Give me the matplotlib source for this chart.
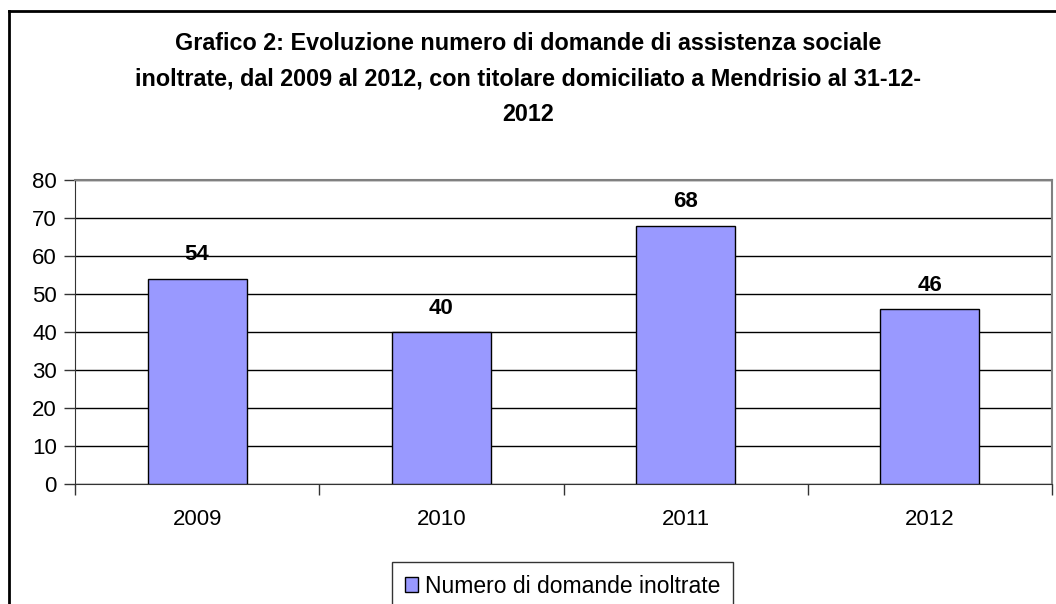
import matplotlib.pyplot as plt
from matplotlib.lines import Line2D
from matplotlib.patches import Patch

plt.rcParams['font.family'] = ['Liberation Sans', 'DejaVu Sans']

years = ['2009', '2010', '2011', '2012']
domande = [54, 40, 68, 46]
y_ticks = [0, 10, 20, 30, 40, 50, 60, 70, 80]
titolo = ('Grafico 2: Evoluzione numero di domande di assistenza sociale\n'
          'inoltrate, dal 2009 al 2012, con titolare domiciliato a Mendrisio al 31-12-\n'
          '2012')
serie = 'Numero di domande inoltrate'

fig = plt.figure(figsize=(10.56, 6.04), dpi=100)
ax = fig.add_axes([75 / 1056, 1 - 484 / 604, 977 / 1056, 304 / 604])

pos = range(len(years))
ax.bar(pos, domande, width=0.405, color='#9999FF', edgecolor='black',
       linewidth=1.0, zorder=3)
for x, v in zip(pos, domande):
    ax.text(x, v + 6.3, str(v), ha='center', va='center', fontsize=16,
            fontweight='bold')

ax.set_xlim(-0.5, len(years) - 0.5)
ax.set_ylim(0, 80)
ax.set_yticks(y_ticks)
ax.set_xticks(pos)
ax.set_xticklabels(years)
ax.set_xticks([p - 0.5 for p in range(len(years) + 1)], minor=True)
ax.tick_params(axis='x', which='major', length=0, labelsize=16, pad=18)
ax.tick_params(axis='x', which='minor', length=8, width=1, color='#333333')
ax.tick_params(axis='y', length=8, width=1, labelsize=16, pad=5, color='#333333')
ax.yaxis.grid(True, color='black', linewidth=1, zorder=0)
ax.set_axisbelow(True)
for s in ['top', 'right']:
    ax.spines[s].set_color('#808080')
    ax.spines[s].set_linewidth(1.5)
ax.spines['left'].set_color('#333333')
ax.spines['bottom'].set_color('#333333')

fig.text(0.5, 1 - 79 / 604, titolo, ha='center', va='center', fontsize=16.8,
         fontweight='bold', linespacing=1.72)

# bordo esterno (visibile solo in alto e a sinistra)
fig.add_artist(Line2D([9 / 1056, 9 / 1056], [0, 1 - 11 / 604], color='black',
                      linewidth=2, transform=fig.transFigure))
fig.add_artist(Line2D([9 / 1056, 1], [1 - 11 / 604, 1 - 11 / 604], color='black',
                      linewidth=2, transform=fig.transFigure))

handle = Patch(facecolor='#9999FF', edgecolor='black', linewidth=1)
leg = fig.legend([handle], [serie], loc='upper center',
                 bbox_to_anchor=(562.5 / 1056, 1 - 562 / 604), fontsize=16.5,
                 frameon=True, fancybox=False, edgecolor='black',
                 handlelength=0.6, handleheight=0.6, handletextpad=0.3,
                 borderpad=0.55, borderaxespad=0)
leg.get_frame().set_linewidth(1)

fig.savefig('out.png', dpi=100)
